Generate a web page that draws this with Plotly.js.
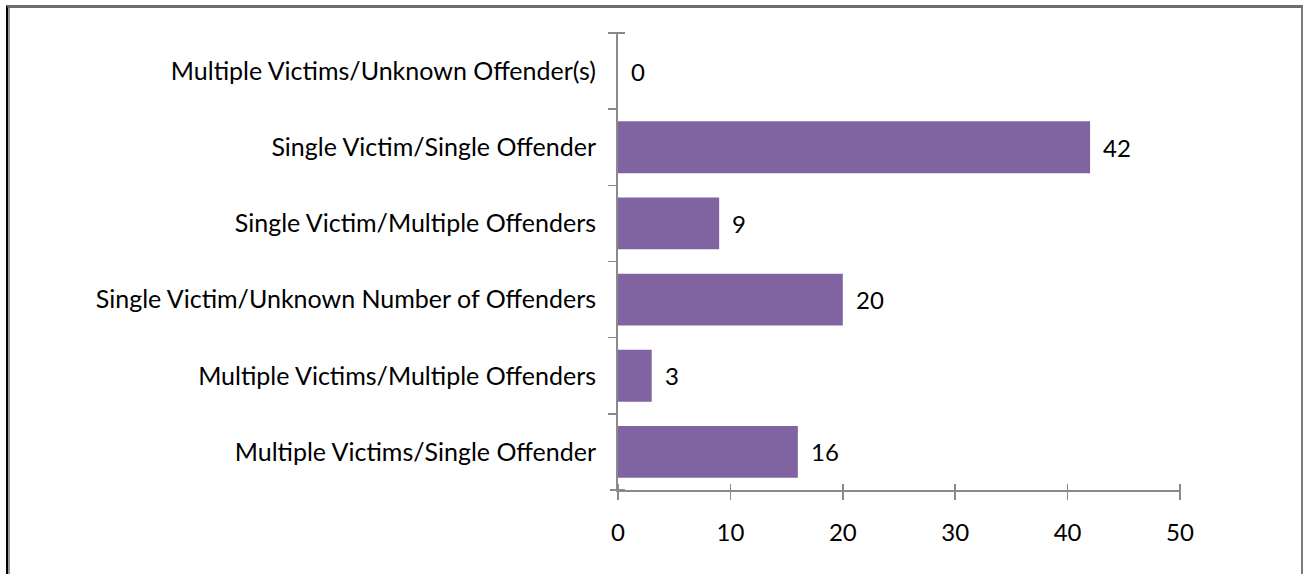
<!DOCTYPE html>
<html>
<head>
<meta charset="utf-8">
<script src="https://cdn.plot.ly/plotly-3.0.1.min.js"></script>
<style>
  html, body { margin: 0; padding: 0; background: #ffffff; }
  #wrap { position: relative; width: 1304px; height: 574px; overflow: hidden; }
  #chart { position: absolute; left: 0; top: 0; width: 1304px; height: 574px; }
  #frame { position: absolute; left: 6px; top: 5px; width: 1297px; height: 580px;
           border-top: 3px solid #6e6e6e; border-left: 2px solid #000; border-right: 2px solid #7a7a7a;
           box-sizing: border-box; pointer-events: none; }
  #frame2 { position: absolute; left: 8px; top: 8px; width: 2px; height: 580px; background: #999; pointer-events: none; }
</style>
</head>
<body>
<div id="wrap">
  <div id="chart"></div>
  <div id="frame"></div>
  <div id="frame2"></div>
</div>
<script>
const categories = [
  "Multiple Victims/Unknown Offender(s)",
  "Single Victim/Single Offender",
  "Single Victim/Multiple Offenders",
  "Single Victim/Unknown Number of Offenders",
  "Multiple Victims/Multiple Offenders",
  "Multiple Victims/Single Offender"
];
const values = [0, 42, 9, 20, 3, 16];
const xTicks = [0, 10, 20, 30, 40, 50];

const font = "Lato, 'Open Sans', sans-serif";
const axisColor = "#8a8a8a";

const trace = {
  type: "bar",
  orientation: "h",
  y: categories,
  x: values,
  marker: { color: "#8064A2" },
  width: 0.68,
  hoverinfo: "none",
  cliponaxis: false
};

// invisible helper trace so the free axes carrying the crossing ticks are drawn
const ghost = {
  type: "bar", orientation: "h", x: [0], y: [categories[0]],
  xaxis: "x2", yaxis: "y2", hoverinfo: "none", showlegend: false,
  marker: { color: "rgba(0,0,0,0)" }
};

const annotations = values.map((v, i) => ({
  x: v, y: categories[i], xref: "x", yref: "y",
  text: String(v), showarrow: false, xanchor: "left", xshift: 11,
  font: { family: font, size: 24, color: "#000" }
}));

const layout = {
  width: 1304, height: 574,
  margin: { l: 618, r: 124, t: 33, b: 84 },
  paper_bgcolor: "rgba(0,0,0,0)",
  plot_bgcolor: "rgba(0,0,0,0)",
  showlegend: false,
  font: { family: font, size: 24, color: "#000" },
  xaxis: {
    range: [0, 50], tickvals: xTicks, ticktext: xTicks.map(String),
    showgrid: false, zeroline: false,
    showline: true, linecolor: axisColor, linewidth: 2,
    ticks: "outside", ticklen: 8, tickcolor: axisColor, tickwidth: 1.5,
    ticklabelstandoff: 12,
    tickfont: { family: font, size: 24, color: "#000" }
  },
  xaxis2: {
    range: [0, 50], overlaying: "x", anchor: "free", position: 0.0153, side: "bottom",
    tickvals: xTicks, showticklabels: false,
    showgrid: false, zeroline: false, showline: false, ticks: "outside", ticklen: 15,
    tickcolor: axisColor, tickwidth: 1.5
  },
  yaxis: {
    type: "category", autorange: "reversed", categoryorder: "array", categoryarray: categories,
    showgrid: false, zeroline: false,
    showline: true, linecolor: axisColor, linewidth: 2,
    ticks: "outside", tickson: "boundaries", ticklen: 8, tickcolor: axisColor, tickwidth: 1.5,
    ticklabelstandoff: 15,
    tickfont: { family: font, size: 25, color: "#000" }
  },
  yaxis2: {
    type: "category", autorange: "reversed", categoryorder: "array", categoryarray: categories,
    overlaying: "y", anchor: "free", position: 0.0125, side: "left",
    showgrid: false, zeroline: false, showline: false, showticklabels: false,
    ticks: "outside", tickson: "boundaries", ticklen: 15, tickcolor: axisColor, tickwidth: 1.5
  },
  annotations: annotations
};

Plotly.newPlot("chart", [trace, ghost], layout, { displayModeBar: false, staticPlot: true });
</script>
</body>
</html>
